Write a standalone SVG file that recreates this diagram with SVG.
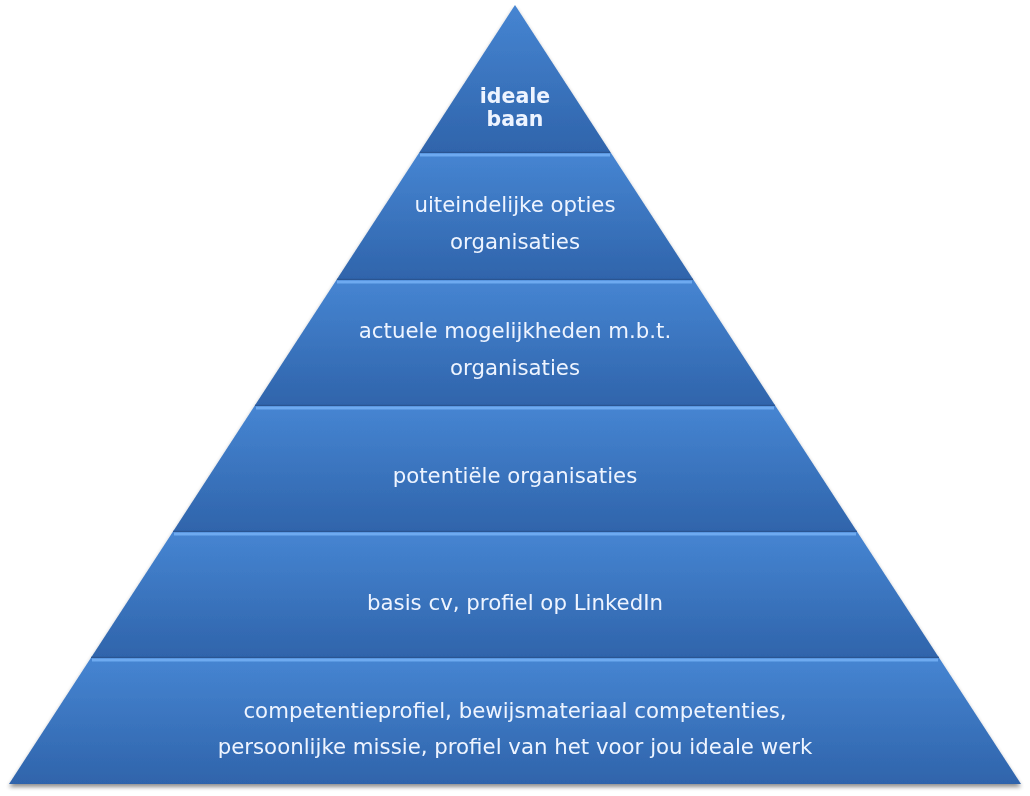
<svg xmlns="http://www.w3.org/2000/svg" width="1030" height="796" viewBox="0 0 1030 796">
<defs>
<linearGradient id="lg" x1="0" y1="0" x2="0" y2="1">
<stop offset="0" stop-color="#4685d2"/>
<stop offset="1" stop-color="#2f64ab"/>
</linearGradient>
<filter id="sh" x="-5%" y="-5%" width="110%" height="110%">
<feGaussianBlur in="SourceAlpha" stdDeviation="2"/>
<feOffset dx="0" dy="3"/>
<feComponentTransfer><feFuncA type="linear" slope="0.45"/></feComponentTransfer>
<feMerge><feMergeNode/><feMergeNode in="SourceGraphic"/></feMerge>
</filter>
</defs>
<style>
.layer{fill:url(#lg);}
.hl{stroke:#6eaaf0;stroke-width:3;}
.dk{stroke:#2a5592;stroke-width:1.5;}
text{font-family:"DejaVu Sans","Verdana",sans-serif;font-size:21.3px;fill:#eef4ff;text-anchor:middle;}
.b{font-weight:bold;font-size:20.5px;}
</style>
<rect width="1030" height="796" fill="#ffffff"/>
<g filter="url(#sh)">
<g id="layer1"><polygon class="layer" points="515,5 611,153 419,153"/><line class="dk" x1="420" y1="152.5" x2="610" y2="152.5"/><text class="b" x="515" y="103">ideale</text><text class="b" x="515" y="126">baan</text></g>
<g id="layer2"><polygon class="layer" points="419,153 611,153 693.6,280 336.4,280"/><line class="hl" x1="420" y1="155" x2="610" y2="155"/><line class="dk" x1="337" y1="279.5" x2="693" y2="279.5"/><text x="515" y="212">uiteindelijke opties</text><text x="515" y="249">organisaties</text></g>
<g id="layer3"><polygon class="layer" points="336.4,280 693.6,280 775.5,406 254.5,406"/><line class="hl" x1="337" y1="282" x2="692" y2="282"/><line class="dk" x1="255" y1="405.5" x2="775" y2="405.5"/><text x="515" y="338">actuele mogelijkheden m.b.t.</text><text x="515" y="375">organisaties</text></g>
<g id="layer4"><polygon class="layer" points="254.5,406 775.5,406 857.3,532 172.7,532"/><line class="hl" x1="256" y1="408" x2="774" y2="408"/><line class="dk" x1="173" y1="531.5" x2="857" y2="531.5"/><text x="515" y="483">potentiële organisaties</text></g>
<g id="layer5"><polygon class="layer" points="172.7,532 857.3,532 939.2,658 90.8,658"/><line class="hl" x1="174" y1="534" x2="856" y2="534"/><line class="dk" x1="91" y1="657.5" x2="939" y2="657.5"/><text x="515" y="610">basis cv, profiel op LinkedIn</text></g>
<g id="layer6"><polygon class="layer" points="90.8,658 939.2,658 1021,784 9,784"/><line class="hl" x1="92" y1="660" x2="938" y2="660"/><text x="515" y="718">competentieprofiel, bewijsmateriaal competenties,</text><text x="515" y="754">persoonlijke missie, profiel van het voor jou ideale werk</text></g>
</g>
<g id="connectors"/>
</svg>
